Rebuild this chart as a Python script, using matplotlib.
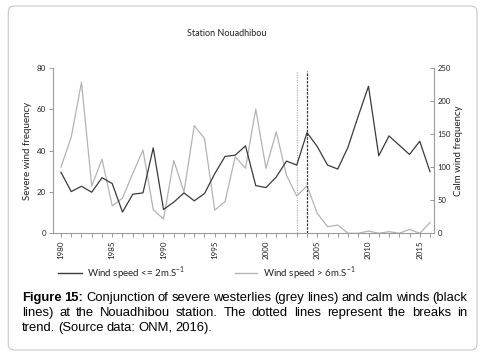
import matplotlib
matplotlib.use('Agg')
import matplotlib.pyplot as plt
from matplotlib.lines import Line2D
from matplotlib.patches import FancyBboxPatch
from matplotlib.transforms import IdentityTransform

# ---------------- data ----------------
years = list(range(1980, 2017))
severe_freq = [32, 46.5, 73, 22.8, 35.8, 13.2, 17, 28.9, 40.2, 11.4,
               6.9, 35.2, 20, 52, 45.8, 11.2, 15.3, 37, 31.4, 60,
               31.4, 49, 28, 18, 22.9, 9.7, 3.2, 4, 0, 0,
               1.1, 0, 0.8, 0, 1.9, 0, 5.2]
calm_freq = [92, 63, 71, 62, 84, 75, 32, 59, 61, 129,
             36, 47, 61, 49, 60, 90, 116, 118, 132, 72,
             69, 85, 109, 103, 152, 131, 103, 97, 130, 177,
             222, 117, 147, 133, 119, 139, 93]
break_severe = 2003
break_calm = 2004
left_ticks = [0, 20, 40, 60, 80]
right_ticks = [0, 50, 100, 150, 200, 250]
xtick_years = [1980, 1985, 1990, 1995, 2000, 2005, 2010, 2015]

title = 'Station Nouadhibou'
left_label = 'Severe wind frequency'
right_label = 'Calm wind frequency'
legend_calm = r'Wind speed <= 2m.S$^{\mathregular{-1}}$'
legend_severe = r'Wind speed > 6m.S$^{\mathregular{-1}}$'
caption_lines = [
    [('Figure', True), ('15:', True), ('Conjunction', False), ('of', False), ('severe', False),
     ('westerlies', False), ('(grey', False), ('lines)', False), ('and', False), ('calm', False),
     ('winds', False), ('(black', False)],
    [('lines)', False), ('at', False), ('the', False), ('Nouadhibou', False), ('station.', False),
     ('The', False), ('dotted', False), ('lines', False), ('represent', False), ('the', False),
     ('breaks', False), ('in', False)],
    [('trend.', False), ('(Source', False), ('data:', False), ('ONM,', False), ('2016).', False)],
]

# ---------------- figure ----------------
plt.rcParams['font.family'] = ['Lato', 'DejaVu Sans']
W, H = 485, 354
fig = plt.figure(figsize=(W / 100, H / 100), dpi=100)
fig.patch.set_facecolor('white')

ax_l, ax_r, ax_b, ax_t = 53, 434, 233.3, 67.7
ax = fig.add_axes([ax_l / W, 1 - ax_b / H, (ax_r - ax_l) / W, (ax_b - ax_t) / H])
ax2 = ax.twinx()

grey = '#b3b3b3'
dark = '#3a3a3a'
spine_c = '#9a9a9a'

ax.plot(years, severe_freq, color=grey, lw=0.9)
ax2.plot(years, calm_freq, color=dark, lw=0.9)
ax.plot([break_severe, break_severe], [0, 78.4], color=grey, lw=0.9, ls=(0, (1, 1)))
ax.plot([break_calm, break_calm], [0, 78.4], color=dark, lw=0.9, ls=(0, (2, 1)))

ax.set_xlim(1979.22, 2016.39)
ax.set_ylim(0, 80)
ax2.set_ylim(0, 250)

for s in ['top', 'right']:
    ax.spines[s].set_visible(False)
for s in ['top', 'left', 'bottom']:
    ax2.spines[s].set_visible(False)
ax.spines['left'].set_color(spine_c)
ax.spines['bottom'].set_color(spine_c)
ax2.spines['right'].set_color(spine_c)
for sp in [ax.spines['left'], ax.spines['bottom'], ax2.spines['right']]:
    sp.set_linewidth(0.8)

ax.set_xticks(xtick_years)
ax.set_xticklabels([str(y) for y in xtick_years], rotation=90)
ax.set_xticks(years, minor=True)
ax.tick_params(axis='x', which='both', direction='out', length=3, color=spine_c,
               labelsize=5.8, pad=2, labelcolor='#222222', width=0.7)
ax.set_yticks(left_ticks)
ax.tick_params(axis='y', direction='out', length=3, color=spine_c, labelsize=5.8,
               pad=2, labelcolor='#222222', width=0.7)
ax2.set_yticks(right_ticks)
ax2.tick_params(axis='y', direction='in', length=3, color=spine_c, labelsize=5.5,
                pad=2.5, labelcolor='#222222', width=0.7)

fig.text(227 / W, 1 - 33 / H, title, ha='center', va='center', fontsize=6.5, color='#222222')
fig.text(28 / W, 1 - 150.5 / H, left_label, rotation=90, ha='center', va='center',
         fontsize=7, color='#222222')
fig.text(459 / W, 1 - 150.5 / H, right_label, rotation=90, ha='center', va='center',
         fontsize=7, color='#222222')

# legend
ly = 1 - 273 / H
fig.add_artist(Line2D([58 / W, 82 / W], [ly, ly], transform=fig.transFigure, color=dark, lw=1))
fig.text(87 / W, ly, legend_calm, ha='left', va='center', fontsize=7, color='#222222')
fig.add_artist(Line2D([235 / W, 257 / W], [ly, ly], transform=fig.transFigure, color=grey, lw=1))
fig.text(263 / W, ly, legend_severe, ha='left', va='center', fontsize=7, color='#222222')

# caption (justified)
renderer = fig.canvas.get_renderer()
x0, x1 = 22, 467
baselines = [301, 316, 331]
for i, (line, base) in enumerate(zip(caption_lines, baselines)):
    texts = []
    for w, bold in line:
        t = fig.text(0, 0, w, fontsize=9.4, family=['Liberation Sans'],
                     weight='bold' if bold else 'normal', ha='left', va='baseline', color='black')
        texts.append(t)
    widths = [t.get_window_extent(renderer).width for t in texts]
    if i < len(caption_lines) - 1:
        gap = (x1 - x0 - sum(widths)) / (len(texts) - 1)
    else:
        gap = 2.9
    x = x0
    for t, wd in zip(texts, widths):
        t.set_position((x / W, 1 - base / H))
        x += wd + gap

# border
fig.add_artist(FancyBboxPatch((8.3, H - 350), 477 - 8.3, 344,
                              boxstyle='round,pad=0,rounding_size=6',
                              transform=IdentityTransform(), fc='none', ec='#c8c8c8', lw=0.8))

fig.savefig('out.png', dpi=100)
